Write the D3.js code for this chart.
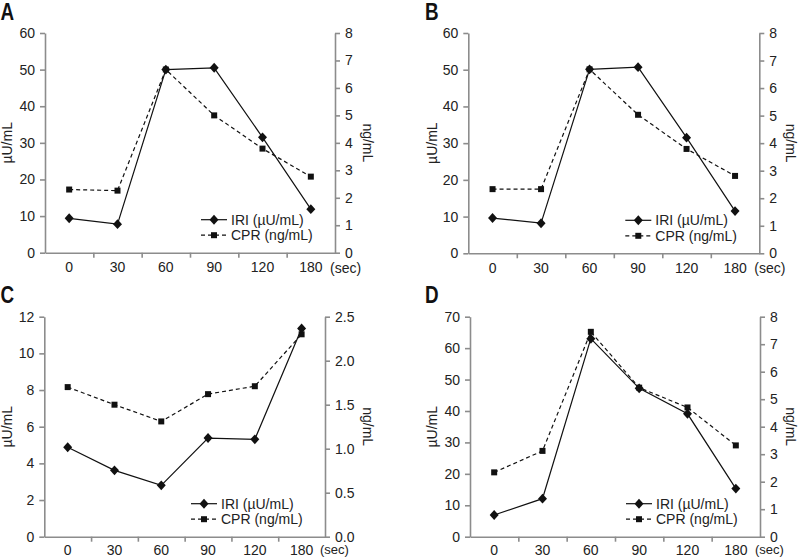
<!DOCTYPE html>
<html>
<head>
<meta charset="utf-8">
<script src="https://cdn.jsdelivr.net/npm/d3@7"></script>
<style>
  html, body { margin: 0; padding: 0; background: #fff; }
  svg { display: block; }
  text { font-family: "Liberation Sans", Arial, Helvetica, sans-serif; }
</style>
</head>
<body>
<svg id="chart" width="798" height="557"></svg>
<script>
// ---- data ----
const categories = ["0", "30", "60", "90", "120", "180"];
const panelLabels = ["A", "B", "C", "D"];

const iriA = [9.4, 7.8, 50.0, 50.5, 31.5, 11.9];
const cprA = [2.30, 2.26, 6.67, 5.0, 3.79, 2.77];

const iriB = [9.6, 8.2, 50.1, 50.7, 31.5, 11.5];
const cprB = [2.33, 2.33, 6.68, 5.03, 3.79, 2.81];

const iriC = [4.88, 3.62, 2.80, 5.38, 5.31, 11.36];
const cprC = [1.70, 1.50, 1.31, 1.62, 1.71, 2.30];

const iriD = [6.9, 12.1, 63.0, 47.2, 39.1, 15.3];
const cprD = [2.34, 3.12, 7.45, 5.42, 4.70, 3.32];

const leftMaxes = [60, 60, 12, 70];
const leftTicks = [
  [0, 10, 20, 30, 40, 50, 60],
  [0, 10, 20, 30, 40, 50, 60],
  [0, 2, 4, 6, 8, 10, 12],
  [0, 10, 20, 30, 40, 50, 60, 70]
];
const rightMaxes = [8, 8, 2.5, 8];
const rightTicks = [
  [0, 1, 2, 3, 4, 5, 6, 7, 8],
  [0, 1, 2, 3, 4, 5, 6, 7, 8],
  [0, 0.5, 1.0, 1.5, 2.0, 2.5],
  [0, 1, 2, 3, 4, 5, 6, 7, 8]
];
const rightFormats = ["d", "d", ".1f", "d"];
const leftTitle = "\u00B5U/mL";
const rightTitle = "ng/mL";
const xUnit = "(sec)";
const legendLabels = ["IRI (\u00B5U/mL)", "CPR (ng/mL)"];

// ---- layout ----
const layouts = [
  { l: 45,    r: 335,   t: 33,    b: 252.7, lt: 12,  rt: 362.5, letterX: 0.5, letterY: 20,  pad: 9.5, uy: 20, us: 14 },
  { l: 468.3, r: 759.3, t: 33,    b: 253.3, lt: 437, rt: 786,   letterX: 425, letterY: 20,  pad: 9.5, uy: 20, us: 14 },
  { l: 44.3,  r: 325,   t: 316.7, b: 536.7, lt: 12,  rt: 362.5, letterX: 0.5, letterY: 303, pad: 8.5, uy: 17, us: 13 },
  { l: 470,   r: 760,   t: 316.7, b: 536.7, lt: 437, rt: 786,   letterX: 425, letterY: 303, pad: 8.5, uy: 17, us: 13 }
];
const iriSets = [iriA, iriB, iriC, iriD];
const cprSets = [cprA, cprB, cprC, cprD];

const svg = d3.select("#chart");
const axisColor = "#8c8c8c";
const textColor = "#222";

const diamondType = {
  draw(ctx, size) {
    const h = Math.sqrt(size) / 2 * 1.1, w = Math.sqrt(size) / 2;
    ctx.moveTo(0, -h); ctx.lineTo(w, 0); ctx.lineTo(0, h); ctx.lineTo(-w, 0); ctx.closePath();
  }
};
const diamond = d3.symbol().type(diamondType).size(81);
const square = d3.symbol().type(d3.symbolSquare).size(36);

function drawPanel(i) {
  const L = layouts[i];
  const g = svg.append("g");
  const x = d3.scaleBand().domain(categories).range([L.l, L.r]);
  const xb = d3.scaleLinear().domain([0, categories.length]).range([L.l, L.r]);
  const yL = d3.scaleLinear().domain([0, leftMaxes[i]]).range([L.b, L.t]);
  const yR = d3.scaleLinear().domain([0, rightMaxes[i]]).range([L.b, L.t]);

  // x axis boundary ticks
  g.append("g").attr("transform", `translate(0,${L.b})`)
    .call(d3.axisBottom(xb).tickValues(d3.range(1, categories.length)).tickSize(5).tickSizeOuter(0).tickFormat(""));
  // x labels
  const xl = g.append("g").attr("transform", `translate(0,${L.b})`)
    .call(d3.axisBottom(x).tickSize(0).tickPadding(L.pad));
  xl.select(".domain").remove();
  // left axis
  g.append("g").attr("transform", `translate(${L.l},0)`)
    .call(d3.axisLeft(yL).tickValues(leftTicks[i]).tickSize(5).tickSizeOuter(0).tickPadding(5));
  // right axis
  g.append("g").attr("transform", `translate(${L.r},0)`)
    .call(d3.axisRight(yR).tickValues(rightTicks[i]).tickSize(5).tickSizeOuter(0).tickPadding(5)
      .tickFormat(d3.format(rightFormats[i])));

  g.selectAll(".domain, .tick line").attr("stroke", axisColor).attr("stroke-width", 1.6);
  g.selectAll(".tick text").attr("fill", textColor).style("font-size", "14px")
    .style("font-family", '"Liberation Sans", Arial, sans-serif');

  // unit
  g.append("text").attr("x", L.r - 5).attr("y", L.b + L.uy).attr("fill", textColor)
    .style("font-size", L.us + "px").text(xUnit);

  // axis titles
  const cy = (L.t + L.b) / 2;
  g.append("text").attr("transform", `translate(${L.lt},${cy}) rotate(-90)`)
    .attr("text-anchor", "middle").attr("fill", textColor).style("font-size", "14px").text(leftTitle);
  g.append("text").attr("transform", `translate(${L.rt},${cy}) rotate(90)`)
    .attr("text-anchor", "middle").attr("fill", textColor).style("font-size", "14px").text(rightTitle);

  // panel letter
  g.append("text").attr("transform", `translate(${L.letterX},${L.letterY}) scale(0.82,1)`)
    .attr("fill", "#111").style("font-size", "23px").style("font-weight", "bold").text(panelLabels[i]);

  const cx = d => x(d) + x.bandwidth() / 2;
  const iri = iriSets[i].map((v, k) => [cx(categories[k]), yL(v)]);
  const cpr = cprSets[i].map((v, k) => [cx(categories[k]), yR(v)]);

  g.append("path").attr("d", d3.line()(cpr)).attr("fill", "none")
    .attr("stroke", "#111").attr("stroke-width", 1.2).attr("stroke-dasharray", "4,3");
  g.append("path").attr("d", d3.line()(iri)).attr("fill", "none")
    .attr("stroke", "#111").attr("stroke-width", 1.2);

  g.selectAll(".sq").data(cpr).enter().append("path")
    .attr("transform", d => `translate(${d[0]},${d[1]})`).attr("d", square).attr("fill", "#111");
  g.selectAll(".dm").data(iri).enter().append("path")
    .attr("transform", d => `translate(${d[0]},${d[1]})`).attr("d", diamond).attr("fill", "#111");

  // legend
  const lx0 = L.r - 134, lx1 = L.r - 108, ly = L.b - 33;
  const items = [
    { label: legendLabels[0], dash: null, sym: diamond, y: ly },
    { label: legendLabels[1], dash: "4,3", sym: square, y: ly + 15.5 }
  ];
  items.forEach(it => {
    g.append("line").attr("x1", lx0).attr("x2", lx1).attr("y1", it.y).attr("y2", it.y)
      .attr("stroke", "#111").attr("stroke-width", 1.2).attr("stroke-dasharray", it.dash);
    g.append("path").attr("transform", `translate(${(lx0 + lx1) / 2},${it.y})`)
      .attr("d", it.sym).attr("fill", "#111");
    g.append("text").attr("x", lx1 + 4).attr("y", it.y + 5).attr("fill", textColor)
      .style("font-size", "14px").text(it.label);
  });
}

for (let i = 0; i < 4; i++) drawPanel(i);
</script>
</body>
</html>
